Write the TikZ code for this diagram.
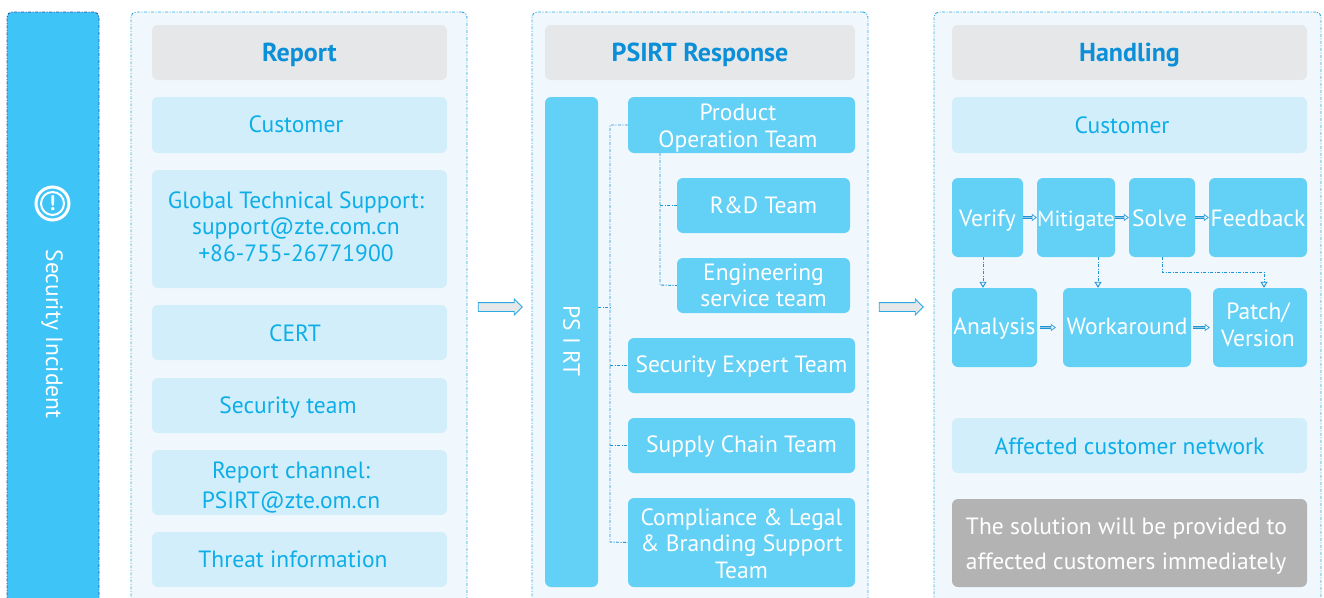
\documentclass[tikz,border=0pt]{standalone}
\usepackage{fontspec}
\setmainfont{PT Sans}
\usepackage{xcolor}
\usetikzlibrary{arrows.meta, shapes.arrows}

\definecolor{sideblue}{HTML}{3EC4F7}
\definecolor{sideedge}{HTML}{2E4FA8}
\definecolor{panelfill}{HTML}{F0F8FE}
\definecolor{paneledge}{HTML}{29ABE2}
\definecolor{headfill}{HTML}{E6E7E8}
\definecolor{headtext}{HTML}{0A8FD8}
\definecolor{palefill}{HTML}{D2EEFA}
\definecolor{paletext}{HTML}{0DAEE8}
\definecolor{teamfill}{HTML}{63D0F6}
\definecolor{linkblue}{HTML}{1C94D8}
\definecolor{notefill}{HTML}{B3B3B3}

\tikzset{
	fine dash/.style = {dash pattern = on 3pt off 1.5pt on 1pt off 1.5pt},
	panel/.style = {draw = paneledge, fill = panelfill, fine dash, line width = 0.9pt, rounded corners = 5pt, inner sep = 0pt},
	oneline/.style = {text height = #1, text depth = 4pt},
	oneline/.default = 20pt,
	tile/.style = {rounded corners = 6pt, inner sep = 0pt, align = center, font = \fontsize{23.5}{26.5}\selectfont},
	headtile/.style = {tile, oneline = 21pt, fill = headfill, text = headtext, font = \fontsize{26}{30}\selectfont\bfseries},
	paletile/.style = {tile, fill = palefill, text = paletext},
	teamtile/.style = {tile, fill = teamfill, text = white},
	link/.style = {draw = linkblue, fine dash, line width = 0.9pt},
	droplink/.style = {link, -{Triangle[open, length = 6pt, width = 7pt]}},
	steparrow/.style = {draw = linkblue, double = headfill!60!linkblue, double distance = 1.6pt, line width = 0.6pt, -{Triangle[open, length = 5pt, width = 7pt]}},
	gatearrow/.style = {single arrow, draw = paneledge, fill = headfill, line width = 0.8pt, minimum height = 44pt, minimum width = 15pt, single arrow head extend = 3.5pt, inner sep = 4pt},
}

\begin{document}
\begin{tikzpicture}[x = 1pt, y = -1pt]
	\useasboundingbox (0,0) rectangle (1324,597);
	\clip (0,0) rectangle (1324,597);

	% side bar
	\node [draw = sideedge, fill = sideblue, fine dash, line width = 0.9pt, rounded corners = 5pt, minimum width = 92pt, minimum height = 608pt, inner sep = 0pt] (incident) at (53,316) {};
	\node [circle, draw = white, line width = 3pt, minimum size = 33pt, inner sep = 0pt] (alertring) at (52.5,203.5) {};
	\node [circle, draw = white, line width = 2pt, minimum size = 23pt, inner sep = 0pt, text = white, font = \fontsize{21}{21}\selectfont\bfseries] (alertmark) at (52.5,203.5) {!};
	\node [rotate = -90, text = white, font = \fontsize{23.5}{26}\selectfont] (incidentlabel) at (52,334) {Security Incident};

	% panels
	\node [panel, minimum width = 336pt, minimum height = 608pt] (reportpanel) at (299,316) {};
	\node [panel, minimum width = 336pt, minimum height = 608pt] (responsepanel) at (700,316) {};
	\node [panel, minimum width = 387pt, minimum height = 608pt] (handlingpanel) at (1127.5,316) {};

	\node [gatearrow] (gateone) at (498,307) {};
	\node [gatearrow] (gatetwo) at (899,307) {};

	% report
	\node [headtile, minimum width = 295pt, minimum height = 55pt] (reporthead) at (299.5,52.5) {Report};
	\node [paletile, oneline = 18pt, minimum width = 295pt, minimum height = 56pt] (customerone) at (299.5,125) {\hspace*{-7pt}Customer};
	\node [paletile, minimum width = 295pt, minimum height = 118pt] (support) at (299.5,229) {\hspace*{-7pt}Global Technical Support:\\\hspace*{-7pt}support@zte.com.cn\\\hspace*{-7pt}+86-755-26771900\rule[-5pt]{0pt}{1pt}};
	\node [paletile, oneline = 21pt, minimum width = 295pt, minimum height = 55pt] (cert) at (299.5,332.5) {\hspace*{-9pt}CERT};
	\node [paletile, oneline, minimum width = 295pt, minimum height = 55pt] (securityteam) at (299.5,405.5) {\hspace*{-23pt}Security team};
	\node [paletile, minimum width = 295pt, minimum height = 65pt] (channel) at (299.5,482.5) {\rule{0pt}{27pt}\hspace*{-17pt}Report channel:\\[3.5pt]\hspace*{-17pt}PSIRT@zte.om.cn};
	\node [paletile, oneline, minimum width = 295pt, minimum height = 55pt] (threat) at (299.5,559.5) {\hspace*{-13pt}Threat information};

	% response
	\node [headtile, minimum width = 310pt, minimum height = 55pt] (responsehead) at (700,52.5) {PSIRT Response};
	\node [teamtile, minimum width = 53pt, minimum height = 490pt] (psirt) at (571.5,342) {};
	\node [rotate = -90, text = white, font = \fontsize{23.5}{26}\selectfont] (psirtlabel) at (571.5,341) {PS I RT};
	\node [teamtile, minimum width = 227pt, minimum height = 56pt] (product) at (741.5,125) {\rule{0pt}{23pt}\hspace*{-7pt}Product\\\hspace*{-7pt}Operation Team};
	\node [teamtile, oneline, minimum width = 173pt, minimum height = 55pt] (rnd) at (763.5,205.5) {R\&D Team};
	\node [teamtile, minimum width = 173pt, minimum height = 55pt] (engineering) at (763.5,285.5) {Engineering\\service team};
	\node [teamtile, oneline = 18pt, minimum width = 227pt, minimum height = 55pt] (expert) at (741.5,365.5) {Security Expert Team};
	\node [teamtile, oneline = 18pt, minimum width = 227pt, minimum height = 55pt] (supply) at (741.5,445.5) {Supply Chain Team};
	\node [teamtile, minimum width = 227pt, minimum height = 89pt] (compliance) at (741.5,542.5) {\rule{0pt}{19pt}Compliance \& Legal\\\& Branding Support\\Team};

	\coordinate (trunktop) at (610,125);
	\coordinate (trunkmid) at (610,307);
	\coordinate (trunkend) at (610,542);
	\coordinate (subtop) at (660,153);
	\coordinate (subend) at (660,285);

	\draw [link] (product.west) -- (trunktop) -- (trunkend) -- (compliance.west);
	\draw [link] (psirt.east |- trunkmid) -- (trunkmid);
	\draw [link] (trunktop |- expert.west) -- (expert.west);
	\draw [link] (trunktop |- supply.west) -- (supply.west);
	\draw [link] (subtop) -- (subend) -- (engineering.west);
	\draw [link] (subtop |- rnd.west) -- (rnd.west);

	% handling
	\node [headtile, minimum width = 355pt, minimum height = 55pt] (handlinghead) at (1129.5,52.5) {Handling};
	\node [paletile, oneline, minimum width = 355pt, minimum height = 56pt] (customertwo) at (1129.5,125) {\hspace*{-15pt}Customer};
	\node [teamtile, oneline = 21pt, minimum width = 71pt, minimum height = 79pt] (verify) at (987.5,217.5) {Verify};
	\node [teamtile, oneline = 21pt, minimum width = 78pt, minimum height = 79pt, font = \fontsize{22}{26.5}\selectfont] (mitigate) at (1076,217.5) {Mitigate};
	\node [teamtile, oneline = 21pt, minimum width = 66pt, minimum height = 79pt] (solve) at (1162,217.5) {\hspace*{-5pt}Solve};
	\node [teamtile, oneline = 21pt, minimum width = 98pt, minimum height = 79pt] (feedback) at (1258,217.5) {Feedback};
	\node [teamtile, oneline = 17pt, minimum width = 85pt, minimum height = 79pt] (analysis) at (994.5,327.5) {Analysis};
	\node [teamtile, oneline = 17pt, minimum width = 128pt, minimum height = 79pt] (workaround) at (1127,327.5) {Workaround};
	\node [teamtile, minimum width = 94pt, minimum height = 79pt] (patch) at (1260,327.5) {\hspace*{-4pt}Patch/\\\hspace*{-4pt}Version\rule[-6pt]{0pt}{1pt}};
	\node [paletile, oneline = 21pt, minimum width = 355pt, minimum height = 55pt] (network) at (1129.5,445.5) {Affected customer network};
	\node [tile, fill = notefill, text = white, minimum width = 355pt, minimum height = 88pt, align = left] (notice) at (1129.5,543) {\rule{0pt}{23pt}\hspace*{-6pt}The solution will be provided to\\[8.5pt]\hspace*{-6pt}affected customers immediately};

	\draw [steparrow] (verify) -- (mitigate);
	\draw [steparrow] (mitigate) -- (solve);
	\draw [steparrow] (solve) -- (feedback);
	\draw [steparrow, shorten <= 3pt, shorten >= 7pt] (analysis) -- (workaround);
	\draw [steparrow, shorten <= 2pt, shorten >= 3pt] (workaround) -- (patch);

	\draw [droplink] ([xshift = -4.5pt]verify.south) -- ([xshift = -4.5pt]verify.south |- analysis.north);
	\draw [droplink] ([xshift = 22pt]mitigate.south) -- ([xshift = 22pt]mitigate.south |- workaround.north);
	\draw [droplink] (solve.south) |- (1264,272) -- ([xshift = 4pt]patch.north);
\end{tikzpicture}
\end{document}
